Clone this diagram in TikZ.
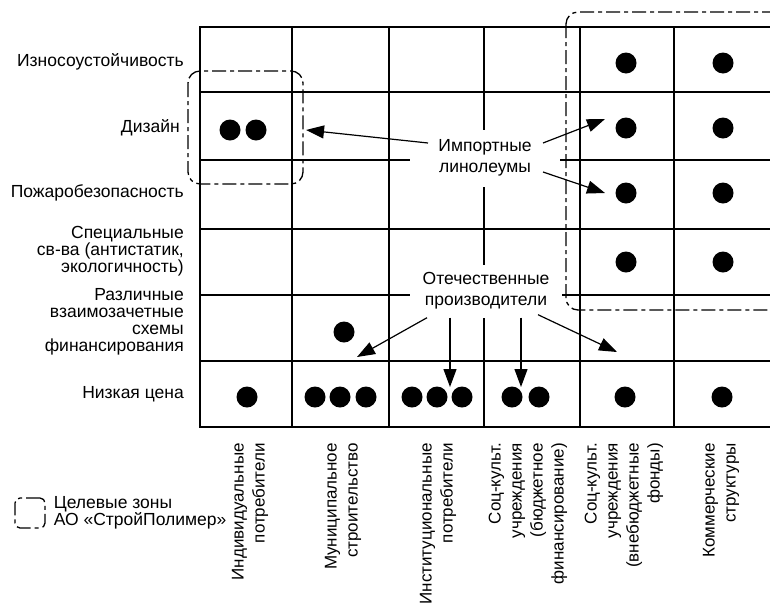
\documentclass[tikz,border=0pt]{standalone}
\usepackage{fontspec}
\setmainfont{Liberation Sans}
\usetikzlibrary{arrows.meta, positioning, calc}

\begin{document}
\begin{tikzpicture}[
		x=1pt, y=-1pt,
		font=\fontsize{17.5}{17}\selectfont,
		grid/.style={line width=1.8pt, line cap=rect},
		dot/.style={circle, fill=black, inner sep=0pt, minimum size=21pt},
		zone/.style={line width=1.3pt, rounded corners=12pt,
			dash pattern=on 14pt off 4pt on 4pt off 4pt},
		lbl/.style={fill=white, align=center, inner sep=0pt,
			font=\fontsize{17.5}{21}\selectfont},
		rowlab/.style={anchor=east, align=right, inner sep=0pt},
		collab/.style={anchor=east, rotate=90, align=right, inner sep=0pt,
			font=\fontsize{17}{21}\selectfont},
		arrow/.style={-{Triangle[length=18pt, width=13pt]}, line width=1.2pt}
		]
		\useasboundingbox (0,0) rectangle (770,603);
		
		% ---- Grid ----
		\foreach \y in {27,92,160,229,295,361,427}
			\draw[grid] (200,\y) -- (775,\y);
		\foreach \x in {200,292,389,484,580,674,775}
			\draw[grid] (\x,27) -- (\x,427);
		
		% ---- Row labels ----
		\node[rowlab] (wear) at (184,62) {Износоустойчивость};
		\node[rowlab] (design) at (180,128) {Дизайн};
		\node[rowlab] (fire) at (184,193) {Пожаробезопасность};
		\node[rowlab] (special) at (184,251)
		{Специальные\\св-ва (антистатик,\\экологичность)};
		\node[rowlab] (finance) at (184,322)
		{Различные\\взаимозачетные\\схемы\\финансирования};
		\node[rowlab] (price) at (184,394) {Низкая цена};
		
		% ---- Column labels ----
		\node[collab] (indiv) at (250,443) {Индивидуальные\\потребители};
		\node[collab] (munic) at (343,443) {Муниципальное\\строительство};
		\node[collab] (inst) at (438,443) {Институциональные\\потребители};
		\node[collab] (budget) at (528,443)
		{Соц-культ.\\учреждения\\(бюджетное\\финансирование)};
		\node[collab] (extra) at (624,443)
		{Соц-культ.\\учреждения\\(внебюджетные\\фонды)};
		\node[collab] (comm) at (721,443) {Коммерческие\\структуры};
		
		% ---- Markers ----
		\foreach \y [count=\r] in {63,128,193,262}{
			\node[dot] (soc\r) at (626,\y) {};
			\node[dot] (com\r) at (723,\y) {};
		}
		\node[dot] (des1) at (230,130) {};
		\node[dot] (des2) at (256,130) {};
		\node[dot] (fin) at (344,332) {};
		\foreach \x [count=\i] in {247,315,340,366,412,437,462,512,539,625,722}
			\node[dot] (low\i) at (\x,397) {};
		
		% ---- Target zones ----
		\draw[zone] (188,71) rectangle (303,184);
		\draw[zone] (566,12) rectangle (790,310);
		
		% ---- Callouts ----
		\node[lbl, minimum width=150pt, minimum height=57pt] (imp) at (485,158)
		{Импортные\\линолеумы};
		\node[lbl, minimum width=152pt, minimum height=53pt] (dom) at (486,291)
		{Отечественные\\производители};
		
		\draw[arrow] ($(imp.center)+(-57,-15)$) -- ($(des2)+(50,0)$);
		\draw[arrow] ($(imp.center)+(58,-15)$) -- ($(soc2)+(-21,-9)$);
		\draw[arrow] ($(imp.center)+(58,14)$) -- ($(soc3)+(-21,0)$);
		
		\draw[arrow] ($(dom.south)+(-59,0)$) -- ($(fin)+(13,25)$);
		\draw[arrow] ($(dom.south)+(-36,0)$) -- ($(low6)+(13,-10)$);
		\draw[arrow] ($(dom.south)+(35,0)$) -- ($(low8)+(9,-10)$);
		\draw[arrow] ($(dom.south)+(52,-3)$) -- ($(low10)+(-8,-45)$);
		
		% ---- Legend ----
		\node[draw, zone, rounded corners=5pt, minimum width=30pt, minimum height=30pt]
		(key) at (30,513) {};
		\node[right=8pt of key, align=left, inner sep=0pt] (keytext)
		{Целевые зоны\\АО «СтройПолимер»};
		
	\end{tikzpicture}
\end{document}
